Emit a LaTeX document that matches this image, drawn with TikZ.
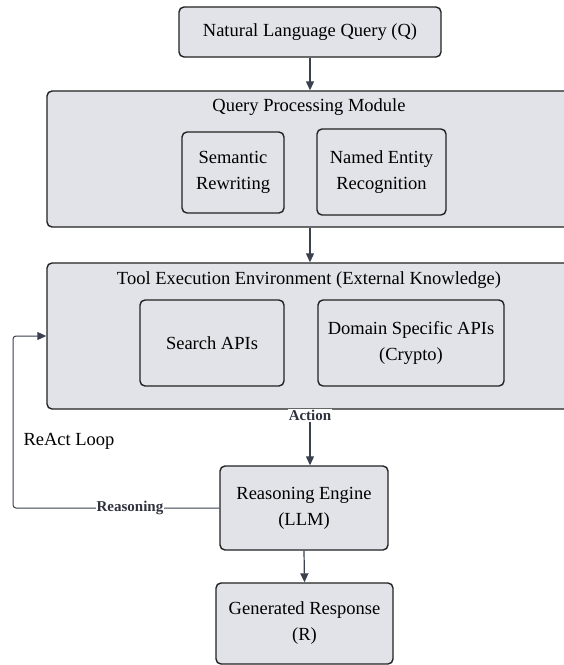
\documentclass[tikz,border=0pt]{standalone}
\usepackage{fontspec}
\setmainfont{Liberation Serif}
\usetikzlibrary{arrows.meta,calc}
\definecolor{boxfill}{RGB}{225,227,232}
\definecolor{boxline}{RGB}{34,34,34}
\definecolor{arrowc}{RGB}{58,64,78}
\definecolor{loopc}{RGB}{95,99,108}
\tikzset{
  box/.style={draw=boxline, fill=boxfill, line width=1.4pt, rounded corners=5pt,
    align=center, inner sep=2pt, font=\fontsize{18.5}{26}\selectfont},
  bigbox/.style={draw=boxline, fill=boxfill, line width=1.4pt, rounded corners=5pt, inner sep=0pt},
  title/.style={font=\fontsize{18.5}{22}\selectfont},
  flow/.style={draw=arrowc, line width=1.2pt, -{Triangle[length=9pt,width=8pt]}},
  loopline/.style={draw=loopc, line width=1pt, rounded corners=3pt, -{Triangle[length=9pt,width=8pt]}, arrowc},
  lab/.style={font=\bfseries\fontsize{15}{17}\selectfont, text=arrowc!80!black, fill=white, inner sep=1pt}
}
\begin{document}
\begin{tikzpicture}[x=1pt,y=-1pt]
\clip (0,0) rectangle (564,665);
\fill[white] (0,0) rectangle (564,665);

% top query
\node[box, minimum width=262pt, minimum height=50pt] (nlq) at (310,32) {Natural Language Query (Q)};

% query processing module
\node[bigbox, minimum width=526pt, minimum height=136pt] (qpm) at (310,159) {};
\node[title] (qpmt) at (309,107) {Query Processing Module};
\node[box, minimum width=102pt, minimum height=81pt] (sem) at (233,172.5) {Semantic\\Rewriting};
\node[box, minimum width=129pt, minimum height=86pt] (ner) at (381.5,172) {Named Entity\\Recognition};

% tool execution environment
\node[bigbox, minimum width=526pt, minimum height=146pt] (tool) at (310,336) {};
\node[title] (toolt) at (309,280) {Tool Execution Environment (External Knowledge)};
\node[box, minimum width=144pt, minimum height=86pt] (search) at (212,343) {Search APIs};
\node[box, minimum width=186pt, minimum height=86pt] (domain) at (411,343) {Domain Specific APIs\\(Crypto)};

% reasoning engine
\node[box, minimum width=168pt, minimum height=84pt] (reas) at (304,508) {Reasoning Engine\\(LLM)};

% generated response
\node[box, minimum width=177pt, minimum height=81pt] (gen) at (304.5,623.5) {Generated Response\\(R)};

% connectors
\draw[flow] (nlq.south) -- (nlq.south |- qpm.north);
\draw[flow] (qpm.south) -- (tool.north);
\draw[flow] (tool.south) -- node[lab, pos=0.1] (act) {Action} (tool.south |- reas.north);
\draw[flow] (reas.south) -- (gen.north);

\coordinate (lp) at (13,420);
\draw[loopline] (reas.west) -| (lp) |- (tool.west);
\node[lab] (rlab) at (130,508) {Reasoning};
\node[anchor=west, font=\fontsize{18.5}{22}\selectfont] (react) at (20,441) {ReAct Loop};
\end{tikzpicture}
\end{document}
